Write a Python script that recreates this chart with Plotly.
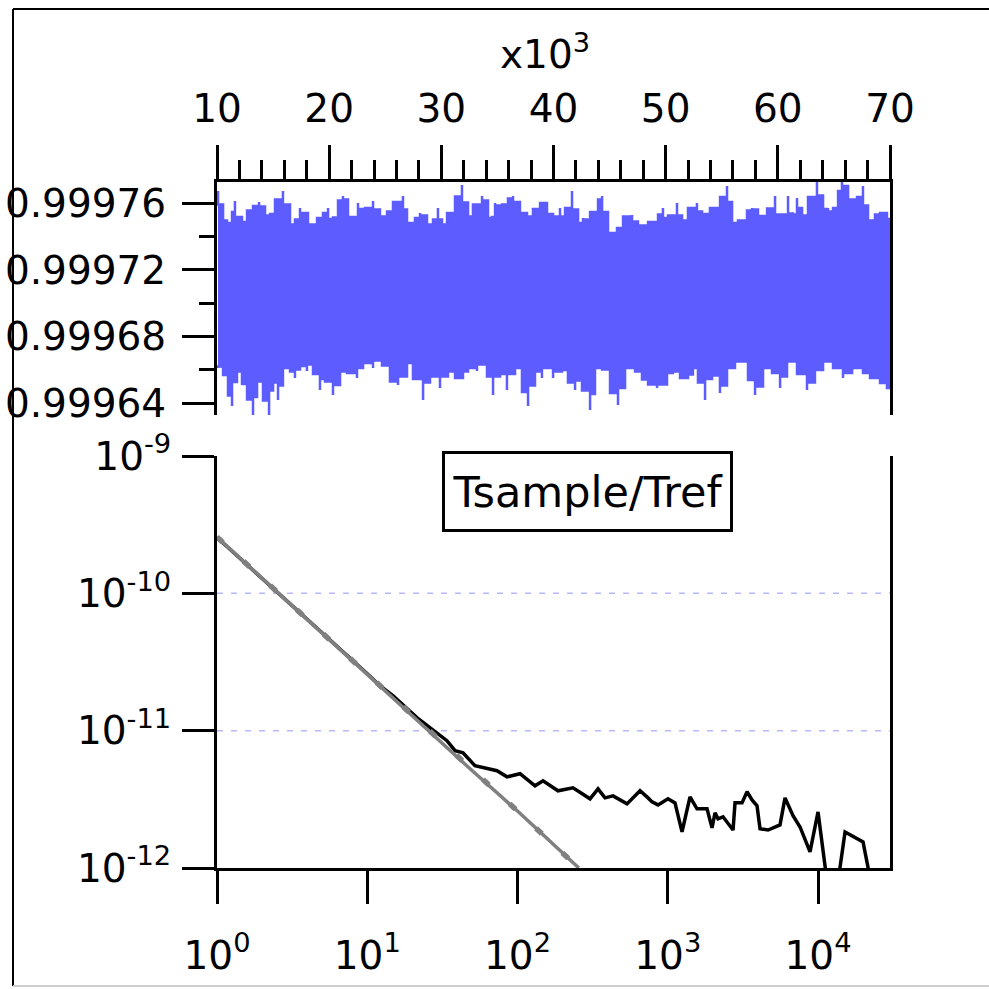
import plotly.graph_objects as go

# ---------------- top panel: ratio time series (upper / lower envelope)
t_hi = [10090, 10540, 10890, 11340, 11600, 12230, 12680, 13210, 13750, 14280, 14730, 15170,
        15880, 16510, 16950, 17400, 18110, 18560, 18920, 19450, 19900, 20340, 20790, 21230,
        21680, 22130, 22570, 23200, 23910, 24530, 25160, 25690, 26580, 26940, 27650, 28100,
        28720, 29260, 29700, 30060, 30510, 31220, 31840, 32380, 32820, 33630, 34160, 34520,
        34790, 35410, 35940, 36390, 37010, 37640, 38170, 38800, 39420, 39960, 40580, 41030,
        41650, 42190, 42630, 43260, 43970, 44330, 44860, 45660, 46200, 47000, 47530, 48430,
        49320, 49760, 50210, 51010, 51460, 51990, 52790, 53240, 53950, 54850, 55470, 55920,
        56450, 57250, 57700, 58230, 59040, 59750, 60370, 60910, 61350, 61710, 62160, 62690,
        63490, 64030, 64470, 64920, 65370, 65720, 66260, 67060, 67590, 68040, 68660, 69110,
        69730, 70000]
r_hi = [0.9997675, 0.9997513, 0.9997483, 0.9997483, 0.9997615, 0.9997423, 0.9997555, 0.9997561,
        0.9997609, 0.9997555, 0.9997501, 0.9997573, 0.9997675, 0.9997513, 0.9997435, 0.9997573,
        0.9997513, 0.9997435, 0.9997513, 0.9997513, 0.9997573, 0.9997441, 0.9997591, 0.9997645,
        0.9997603, 0.9997435, 0.9997603, 0.9997531, 0.9997615, 0.9997513, 0.9997531, 0.9997573,
        0.9997645, 0.9997483, 0.9997483, 0.9997543, 0.9997513, 0.9997435, 0.9997573, 0.9997435,
        0.9997513, 0.9997573, 0.9997711, 0.9997501, 0.9997543, 0.9997645, 0.9997591, 0.9997435,
        0.9997603, 0.9997573, 0.9997615, 0.9997645, 0.9997573, 0.9997513, 0.9997531, 0.9997603,
        0.9997603, 0.9997471, 0.9997573, 0.9997471, 0.9997675, 0.9997453, 0.9997513, 0.9997495,
        0.9997603, 0.9997645, 0.9997453, 0.9997392, 0.9997513, 0.9997531, 0.9997453, 0.9997483,
        0.9997495, 0.9997573, 0.9997453, 0.9997603, 0.9997453, 0.9997543, 0.9997603, 0.9997501,
        0.9997573, 0.9997573, 0.9997705, 0.9997513, 0.9997453, 0.9997543, 0.9997573, 0.9997555,
        0.9997495, 0.9997645, 0.9997423, 0.9997645, 0.9997435, 0.9997633, 0.9997513, 0.9997543,
        0.9997735, 0.9997561, 0.9997573, 0.9997531, 0.9997615, 0.9997735, 0.9997675, 0.9997573,
        0.9997705, 0.9997471, 0.9997525, 0.9997543, 0.9997543, 0.9997471]

t_lo = [10090, 10540, 10980, 11340, 11780, 12230, 12680, 13210, 13570, 14100, 14640, 15000,
        15440, 15880, 16510, 16950, 17400, 18020, 18560, 19180, 19630, 20340, 20970, 21590,
        22480, 23020, 23910, 24710, 25420, 26140, 26940, 27470, 28370, 28990, 29880, 30590,
        31220, 31930, 32380, 33180, 34070, 34610, 35230, 35850, 36570, 37190, 37730, 38350,
        38970, 39690, 39960, 40760, 41290, 41920, 42540, 43260, 43700, 44330, 45040, 45750,
        46380, 47270, 47890, 48430, 49230, 50120, 50650, 51280, 51990, 52430, 52880, 53510,
        54130, 54840, 55470, 56180, 57340, 57970, 58680, 59480, 60200, 60820, 61710, 62600,
        63310, 64030, 64920, 65810, 66620, 67590, 68220, 69110, 69730, 70000]
r_lo = [0.9996611, 0.9996629, 0.9996508, 0.9996382, 0.9996671, 0.9996508, 0.9996520, 0.9996322,
        0.9996550, 0.9996508, 0.9996322, 0.9996629, 0.9996418, 0.9996592, 0.9996629, 0.9996550,
        0.9996653, 0.9996592, 0.9996671, 0.9996478, 0.9996611, 0.9996448, 0.9996568, 0.9996611,
        0.9996550, 0.9996671, 0.9996611, 0.9996701, 0.9996550, 0.9996508, 0.9996611, 0.9996671,
        0.9996418, 0.9996629, 0.9996490, 0.9996629, 0.9996550, 0.9996550, 0.9996629, 0.9996592,
        0.9996671, 0.9996448, 0.9996671, 0.9996478, 0.9996671, 0.9996550, 0.9996382, 0.9996629,
        0.9996550, 0.9996671, 0.9996550, 0.9996629, 0.9996568, 0.9996478, 0.9996592, 0.9996358,
        0.9996550, 0.9996671, 0.9996532, 0.9996388, 0.9996592, 0.9996629, 0.9996550, 0.9996532,
        0.9996490, 0.9996532, 0.9996629, 0.9996550, 0.9996550, 0.9996592, 0.9996629, 0.9996418,
        0.9996671, 0.9996460, 0.9996550, 0.9996671, 0.9996629, 0.9996448, 0.9996550, 0.9996671,
        0.9996490, 0.9996629, 0.9996671, 0.9996478, 0.9996568, 0.9996629, 0.9996671, 0.9996550,
        0.9996611, 0.9996611, 0.9996550, 0.9996550, 0.9996490, 0.9996490]

# ---------------- bottom panel: Allan deviation
tau_gray = [1, 2, 5, 10, 20, 50, 100, 200, 256]
adev_gray = [2.57e-10, 1.29e-10, 5.1e-11, 2.57e-11, 1.28e-11, 5.1e-12, 2.6e-12, 1.28e-12, 1.0e-12]

tau_black = [1, 2, 3, 4, 5, 6, 8, 10, 12, 14.8, 21.4, 29.1, 33.9, 38.4, 43.4, 52.1, 60.8, 73.0,
             85.1, 103.9, 130.8, 147.8, 186.0, 234.1, 303.8, 343.4, 382.3, 432.2, 535.6, 653.7,
             739.0, 785.8, 861.3, 1004, 1117, 1244, 1406, 1565, 1825, 1970, 2063, 2160, 2332,
             2480, 2719, 2803, 3120, 3370, 3637, 3926, 4111, 4648, 5585, 6032, 6817, 7591, 8845,
             10000, 11480, 13590, 15130, 19930, 22190]
adev_black = [2.55e-10, 1.29e-10, 8.6e-11, 6.4e-11, 5.2e-11, 4.3e-11, 3.25e-11, 2.6e-11, 2.15e-11,
              1.80e-11, 1.245e-11, 9.51e-12, 8.45e-12, 7.15e-12, 6.91e-12, 5.55e-12, 5.37e-12,
              5.11e-12, 4.61e-12, 4.86e-12, 3.97e-12, 4.32e-12, 3.65e-12, 3.84e-12, 3.19e-12,
              3.77e-12, 3.24e-12, 3.35e-12, 2.93e-12, 3.65e-12, 3.24e-12, 3.03e-12, 2.88e-12,
              3.19e-12, 2.98e-12, 1.83e-12, 3.30e-12, 2.70e-12, 2.70e-12, 1.96e-12, 2.52e-12,
              2.28e-12, 2.36e-12, 2.17e-12, 1.89e-12, 2.98e-12, 2.98e-12, 3.59e-12, 3.13e-12,
              2.84e-12, 1.93e-12, 1.89e-12, 2.06e-12, 3.24e-12, 2.40e-12, 1.99e-12, 1.31e-12,
              2.56e-12, 8.0e-13, 8.0e-13, 1.83e-12, 1.55e-12, 8.5e-13]

top_xticks = [10000, 20000, 30000, 40000, 50000, 60000, 70000]
top_xlabels = ["10", "20", "30", "40", "50", "60", "70"]
top_yticks = [0.99964, 0.99968, 0.99972, 0.99976]
top_ylabels = ["0.99964", "0.99968", "0.99972", "0.99976"]
bot_xticks = [1, 10, 100, 1000, 10000]
bot_xlabels = ["10<sup>0</sup>", "10<sup>1</sup>", "10<sup>2</sup>", "10<sup>3</sup>", "10<sup>4</sup>"]
bot_yticks = [1e-12, 1e-11, 1e-10, 1e-9]
bot_ylabels = ["10<sup>-12</sup>", "10<sup>-11</sup>", "10<sup>-10</sup>", "10<sup>-9</sup>"]

BLUE = "#5c5cff"
GRAY = "#808080"
W, H = 989, 989
FONT = "DejaVu Sans"
FS = 39

fig = go.Figure()

fig.add_trace(go.Scatter(
    x=t_hi + t_lo[::-1], y=r_hi + r_lo[::-1],
    mode="lines", line=dict(color=BLUE, width=2.5, shape="vhv"),
    fill="toself", fillcolor=BLUE, xaxis="x", yaxis="y", hoverinfo="skip"))

fig.add_trace(go.Scatter(
    x=tau_black, y=adev_black, mode="lines",
    line=dict(color="black", width=3.5), xaxis="x2", yaxis="y2"))
fig.add_trace(go.Scatter(
    x=tau_gray, y=adev_gray, mode="lines",
    line=dict(color=GRAY, width=3.5), xaxis="x2", yaxis="y2"))
fig.add_trace(go.Scatter(
    x=tau_gray, y=adev_gray, mode="lines",
    line=dict(color=GRAY, width=5.5, dash="8px,28px"), xaxis="x2", yaxis="y2"))

xd = [217 / W, 890 / W]
top_dom = [1 - 415 / H, 1 - 182 / H]
bot_dom = [1 - 868 / H, 1 - 456 / H]

axis_common = dict(showline=True, linecolor="black", linewidth=3, ticks="outside",
                   tickcolor="black", tickwidth=3, showgrid=False, zeroline=False,
                   automargin=False,
                   tickfont=dict(family=FONT, size=FS, color="black"))

minor_x = [v for v in range(12000, 70000, 2000) if v % 10000 != 0]

fig.update_layout(
    width=W, height=H, margin=dict(l=0, r=0, t=0, b=0, autoexpand=False),
    paper_bgcolor="white", plot_bgcolor="white", showlegend=False,
    xaxis=dict(domain=xd, anchor="y", side="top", range=[10000, 70000],
               tickvals=top_xticks, ticktext=top_xlabels, ticklen=34,
               ticklabelstandoff=7, mirror=False,
               minor=dict(tickvals=minor_x, ticklen=19, tickwidth=3, tickcolor="black",
                          ticks="outside"),
               **axis_common),
    yaxis=dict(domain=top_dom, anchor="x", range=[0.9996328, 0.9997729],
               tickvals=top_yticks, ticktext=top_ylabels, ticklen=32,
               ticklabelstandoff=8, mirror=True,
               minor=dict(tickvals=[0.99966, 0.99970, 0.99974], ticklen=15, tickwidth=3,
                          tickcolor="black", ticks="outside"),
               **axis_common),
    xaxis2=dict(domain=xd, anchor="y2", type="log", range=[0, 4.479],
                tickvals=bot_xticks, ticktext=bot_xlabels, ticklen=33,
                ticklabelstandoff=18, mirror=False, **axis_common),
    yaxis2=dict(domain=bot_dom, anchor="x2", type="log", range=[-12, -9],
                tickvals=bot_yticks, ticktext=bot_ylabels, ticklen=32,
                ticklabelstandoff=3, mirror=True, **axis_common),
)

# dashed grid lines at 1e-10 and 1e-11
for gv in [1e-10, 1e-11]:
    fig.add_shape(type="line", xref="x2 domain", yref="y2", x0=0, x1=1, y0=gv, y1=gv,
                  line=dict(color="#b8b8ff", width=1.5, dash="6px,8px"), layer="below")

# outer frame
fig.add_shape(type="line", xref="paper", yref="paper", x0=13 / W, x1=13 / W,
              y0=1 - 986 / H, y1=1 - 9 / H, line=dict(color="black", width=2))
fig.add_shape(type="line", xref="paper", yref="paper", x0=13 / W, x1=1.0,
              y0=1 - 9 / H, y1=1 - 9 / H, line=dict(color="black", width=2))
fig.add_shape(type="line", xref="paper", yref="paper", x0=13 / W, x1=1.0,
              y0=1 - 986 / H, y1=1 - 986 / H, line=dict(color="#cccccc", width=2))

fig.add_annotation(xref="paper", yref="paper", x=545 / W, y=1 - 52 / H,
                   xanchor="center", yanchor="middle",
                   text="x10<sup>3</sup>", showarrow=False,
                   font=dict(family=FONT, size=FS, color="black"))

fig.add_annotation(xref="paper", yref="paper", x=587 / W, y=1 - 491 / H,
                   xanchor="center", yanchor="middle",
                   text="Tsample/Tref", showarrow=False, width=281, height=71,
                   font=dict(family=FONT, size=43, color="black"),
                   bordercolor="black", borderwidth=3, borderpad=2, bgcolor="white")

fig.write_html("out.html")
